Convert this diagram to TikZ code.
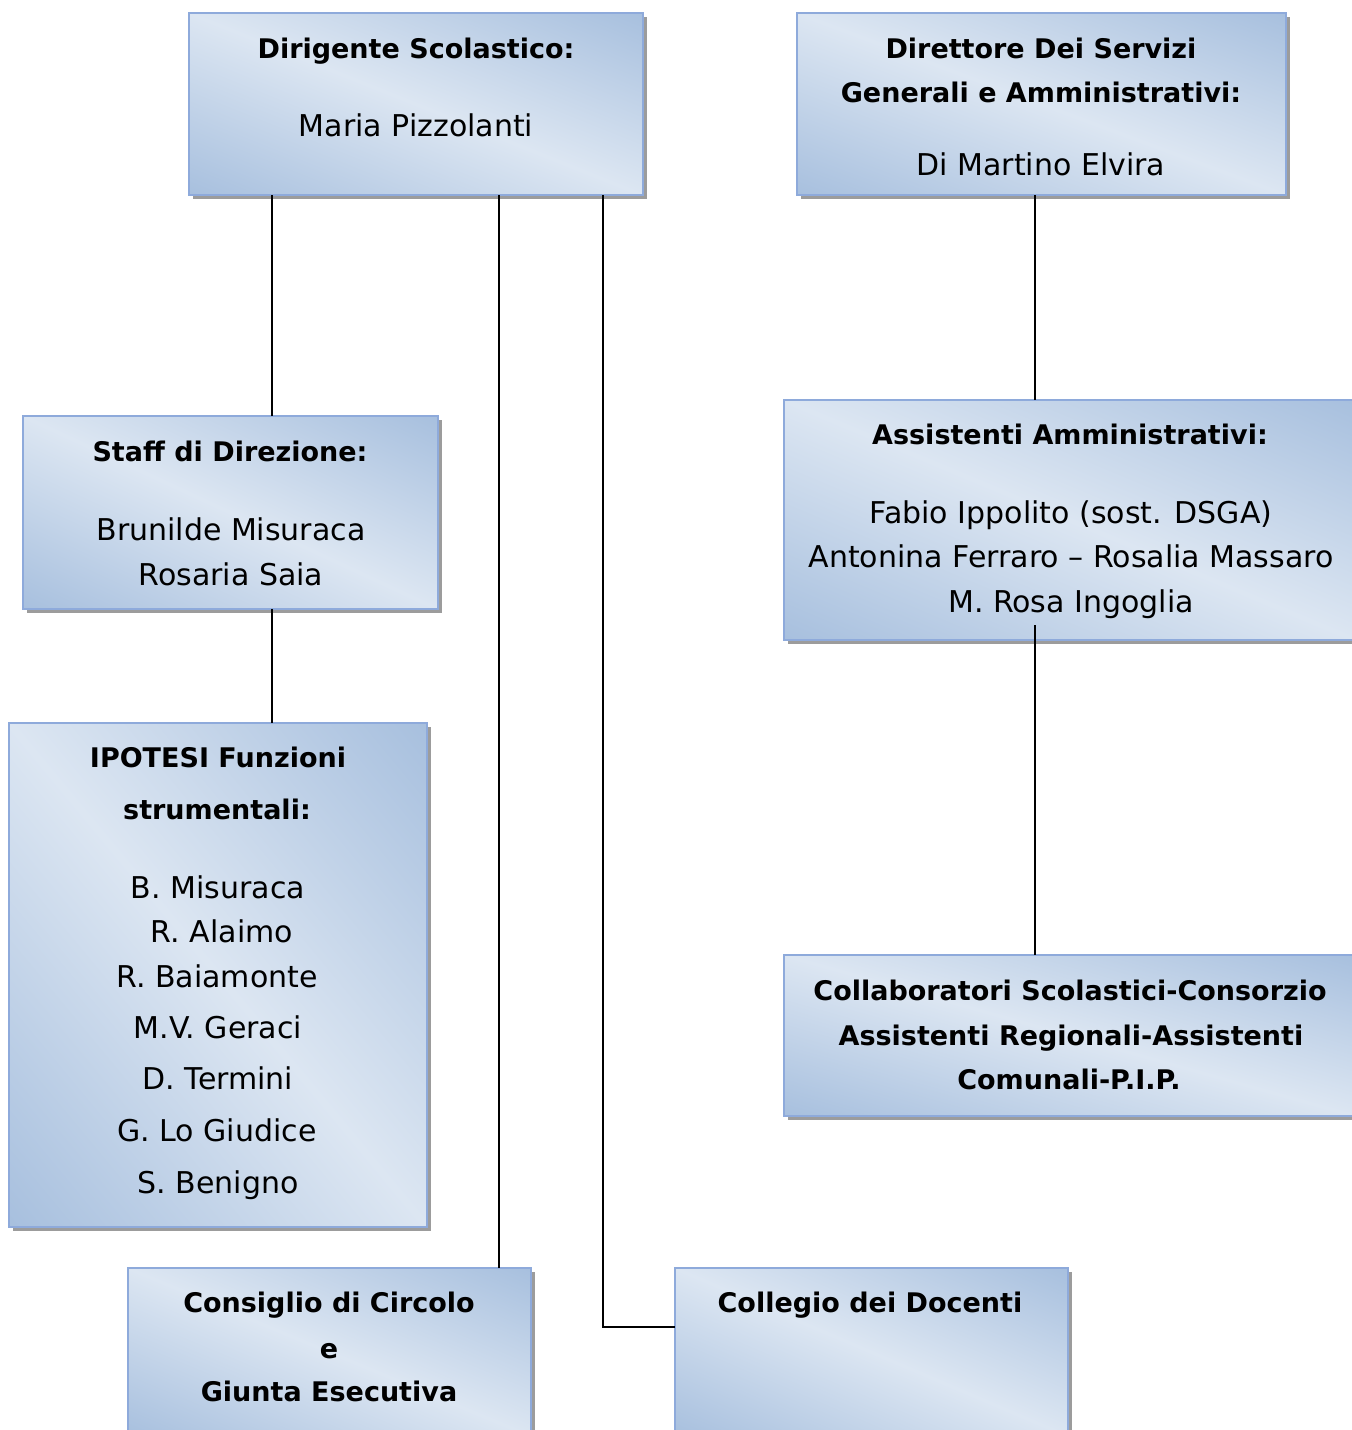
\documentclass[tikz,border=0pt]{standalone}
\usepackage{fontspec}
\setmainfont{DejaVu Sans}
\usetikzlibrary{fit}
\definecolor{bdark}{HTML}{92B0D6}
\definecolor{blight}{HTML}{DCE6F2}
\definecolor{bline}{HTML}{8EAADB}
\definecolor{shgray}{HTML}{9C9C9C}
\newcommand\orgbox[5]{%
  \pgfmathsetmacro\bw{#4-#2}%
  \pgfmathsetmacro\bh{#5-#3}%
  \pgfmathsetmacro\bcx{(#2+#4)/2}%
  \pgfmathsetmacro\bcy{(#3+#5)/2}%
  \pgfmathsetmacro\bang{-atan(\bh/\bw)}%
  \pgfmathsetmacro\bD{(\bw/100)*(\bh/100)/veclen(\bw/100,\bh/100)*100}%
  \pgfmathsetmacro\bL{\bw+\bh}%
  \fill[shgray] (#2+4,#3+4) rectangle (#4+4,#5+4);
  \begin{scope}
    \clip (#2,#3) rectangle (#4,#5);
    \begin{scope}[transform canvas={rotate around={\bang:(\bcx,\bcy)}}]
      \shade[top color=bdark, bottom color=bdark, middle color=blight]
        (\bcx-\bL,\bcy-1.4*\bD) rectangle (\bcx+\bL,\bcy+1.4*\bD);
    \end{scope}
  \end{scope}
  \node[boxframe, fit={(#2,#3) (#4,#5)}] (#1) {};
}
\begin{document}
\begin{tikzpicture}[x=0.5pt,y=-0.5pt,
  boxframe/.style={draw=bline, line width=1pt, inner sep=0pt, outer sep=0pt},
  ttl/.style={font=\bfseries\fontsize{13.5}{16}\selectfont, inner sep=0pt, anchor=base},
  txt/.style={font=\fontsize{15}{18}\selectfont, inner sep=0pt, anchor=base},
  conn/.style={draw=black, line width=1pt}]
\useasboundingbox (0,0) rectangle (1351,1430);
% boxes
\orgbox{dir}{189}{13}{643}{195}
\orgbox{dsga}{797}{13}{1286}{195}
\orgbox{staff}{23}{416}{438}{609}
\orgbox{ass}{784}{400}{1356}{640}
\orgbox{ipo}{9}{723}{427}{1227}
\orgbox{coll}{784}{955}{1356}{1116}
\orgbox{cons}{128}{1268}{531}{1436}
\orgbox{doc}{675}{1268}{1068}{1436}
% texts
\node[ttl] (t1) at (416,58) {Dirigente Scolastico:};
\node[txt] (t2) at (416,136) {Maria Pizzolanti};
\node[ttl] (t3) at (1041,58) {Direttore Dei Servizi};
\node[ttl] (t4) at (1041,102) {Generali e Amministrativi:};
\node[txt] (t5) at (1041,175) {Di Martino Elvira};
\node[ttl] (t6) at (230,461) {Staff di Direzione:};
\node[txt] (t7) at (231,540) {Brunilde Misuraca};
\node[txt] (t8) at (231,585) {Rosaria Saia};
\node[ttl] (t9) at (1070,444) {Assistenti Amministrativi:};
\node[txt] (t10) at (1071,523) {Fabio Ippolito (sost. DSGA)};
\node[txt] (t11) at (1071,567) {Antonina Ferraro – Rosalia Massaro};
\node[txt] (t12) at (1071,612) {M. Rosa Ingoglia};
\node[ttl] (t13) at (218,767) {IPOTESI Funzioni};
\node[ttl] (t14) at (217,819) {strumentali:};
\node[txt] (t15) at (218,898) {B. Misuraca};
\node[txt] (t16) at (222,942) {R. Alaimo};
\node[txt] (t17) at (217,987) {R. Baiamonte};
\node[txt] (t18) at (218,1038) {M.V. Geraci};
\node[txt] (t19) at (218,1089) {D. Termini};
\node[txt] (t20) at (217,1141) {G. Lo Giudice};
\node[txt] (t21) at (218,1193) {S. Benigno};
\node[ttl] (t22) at (1070,1000) {Collaboratori Scolastici-Consorzio};
\node[ttl] (t23) at (1071,1045) {Assistenti Regionali-Assistenti};
\node[ttl] (t24) at (1069,1089) {Comunali-P.I.P.};
\node[ttl] (t25) at (329,1312) {Consiglio di Circolo};
\node[ttl] (t26) at (329,1358) {e};
\node[ttl] (t27) at (329,1401) {Giunta Esecutiva};
\node[ttl] (t28) at (870,1312) {Collegio dei Docenti};
% connector guides
\coordinate (xA) at (272,0);
\coordinate (xB) at (499,0);
\coordinate (kC) at (603,1327);
\coordinate (xD) at (1035,0);
\coordinate (yE) at (0,625);
% connectors
\draw[conn] (dir.south -| xA) -- (staff.north -| xA);
\draw[conn] (staff.south -| xA) -- (ipo.north -| xA);
\draw[conn] (dir.south -| xB) -- (cons.north -| xB);
\draw[conn] (dir.south -| kC) |- (doc.west |- kC);
\draw[conn] (dsga.south -| xD) -- (ass.north -| xD);
\draw[conn] (xD |- yE) -- (coll.north -| xD);
\end{tikzpicture}
\end{document}
